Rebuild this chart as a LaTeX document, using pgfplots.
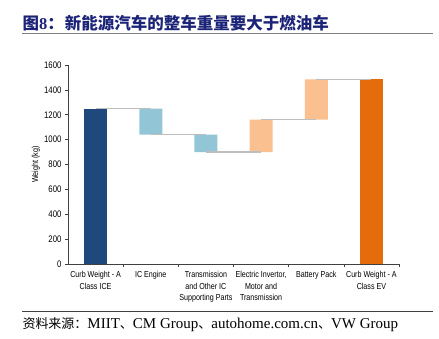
\documentclass[border=0pt]{standalone}
\usepackage{pgfplots}
\pgfplotsset{compat=1.18}
\usepackage{fontspec}
\setmainfont{Liberation Sans}
\newfontfamily\cjk{Noto Sans CJK SC}
\newfontfamily\serif{Liberation Serif}
\newfontfamily\narrow[FakeStretch=0.82]{Liberation Sans}
\definecolor{navy}{RGB}{31,73,125}
\definecolor{ltblue}{RGB}{146,198,214}
\definecolor{ltorange}{RGB}{250,192,143}
\definecolor{dkorange}{RGB}{228,108,10}
\definecolor{titleblue}{RGB}{28,36,120}
\definecolor{conn}{RGB}{190,190,190}
\begin{document}
\begin{tikzpicture}[x=1pt,y=1pt]
\path[use as bounding box] (0,0) rectangle (439,-338);
% title
\node[anchor=base west, inner sep=0pt, text=titleblue] at (22.5,-29)
  {\fontsize{16.5}{16.5}\selectfont{\cjk\bfseries 图}{\serif\bfseries 8}{\cjk\bfseries ：\hspace{1pt}新能源汽车的整车重量要大于燃油车}};
\draw[gray, line width=1.3pt] (22,-33.3) -- (433,-33.3);
% footer
\draw[black!75, line width=1pt] (22,-311.5) -- (433,-311.5);
\node[anchor=base west, inner sep=0pt] at (22.3,-328.5)
  {{\cjk\fontsize{13}{13}\selectfont 资料来源：}{\serif\fontsize{15}{15}\selectfont MIIT{\cjk\fontsize{13}{13}\selectfont 、}CM Group{\cjk\fontsize{13}{13}\selectfont 、}autohome.com.cn{\cjk\fontsize{13}{13}\selectfont 、}VW Group}};
\begin{axis}[
  scale only axis, width=331pt, height=199pt,
  at={(68pt,-264pt)}, anchor=south west,
  xmin=-0.5, xmax=5.5, ymin=0, ymax=1600,
  ybar stacked, bar width=23pt,
  axis x line*=bottom, axis y line*=left,
  axis line style={black!75, line width=0.8pt, -},
  tick align=outside,
  ytick={0,200,...,1600},
  major tick length=3pt, minor tick length=3pt,
  ytick style={black!75, line width=0.6pt},
  xtick={0,...,5},
  major x tick style={draw=none},
  minor xtick={0.5,1.5,2.5,3.5,4.5,5.5},
  minor x tick style={black!75, line width=0.6pt},
  xticklabels={{Curb Weight - A\\Class ICE},{IC Engine},{Transmission\\and Other IC\\Supporting Parts},{Electric Invertor,\\Motor and\\Transmission},{Battery Pack},{Curb Weight - A\\Class EV}},
  xticklabel style={align=center, font=\narrow\fontsize{8.7}{11.3}\selectfont, yshift=-1pt},
  yticklabel style={font=\narrow\fontsize{9.5}{10}\selectfont},
  /pgf/number format/assume math mode=true,
  /pgf/number format/1000 sep={},
  ylabel={Weight (kg)},
  ylabel style={font=\narrow\fontsize{8.7}{10}\selectfont, at={(axis description cs:-0.097,0.5)}, anchor=center},
  clip=false,
]
\addplot[draw=none, fill=none] coordinates {(0,0) (1,1040) (2,900) (3,900) (4,1160) (5,0)};
\addplot[draw=none, fill=navy] coordinates {(0,1250) (1,0) (2,0) (3,0) (4,0) (5,0)};
\addplot[draw=none, fill=ltblue] coordinates {(0,0) (1,210) (2,140) (3,0) (4,0) (5,0)};
\addplot[draw=none, fill=ltorange] coordinates {(0,0) (1,0) (2,0) (3,260) (4,325) (5,0)};
\addplot[draw=none, fill=dkorange] coordinates {(0,0) (1,0) (2,0) (3,0) (4,0) (5,1485)};
\end{axis}
\begin{axis}[
  scale only axis, width=331pt, height=199pt,
  at={(68pt,-264pt)}, anchor=south west,
  xmin=-0.5, xmax=5.5, ymin=0, ymax=1600,
  hide axis,
]
\addplot[conn, line width=1.2pt] coordinates {(0,1250) (1,1250)};
\addplot[conn, line width=1.2pt] coordinates {(1,1040) (2,1040)};
\addplot[conn, line width=1.2pt] coordinates {(2,900) (3,900)};
\addplot[conn, line width=1.2pt] coordinates {(3,1160) (4,1160)};
\addplot[conn, line width=1.2pt] coordinates {(4,1485) (5,1485)};
\end{axis}
\end{tikzpicture}
\end{document}
